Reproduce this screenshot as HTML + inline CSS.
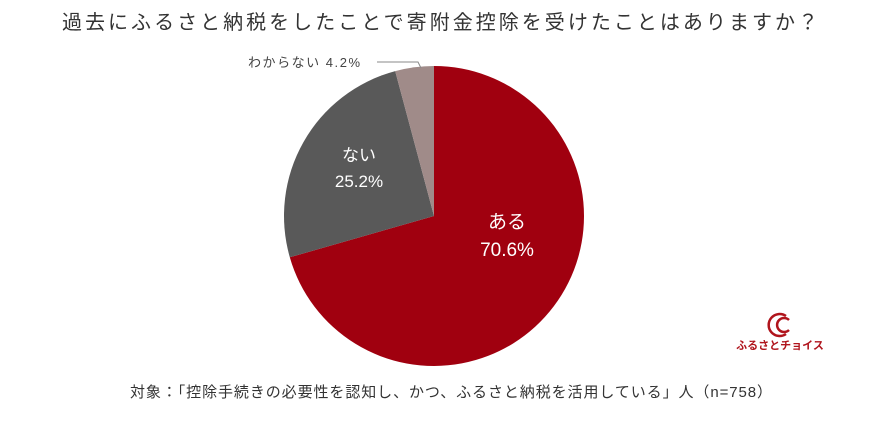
<!DOCTYPE html>
<html><head><meta charset="utf-8"><style>
body{margin:0;width:886px;height:434px;background:#fff;overflow:hidden;font-family:"Liberation Sans","Noto Sans CJK JP",sans-serif;}
</style></head><body>
<svg width="886" height="434" xmlns="http://www.w3.org/2000/svg" style="font-family:'Liberation Sans','Noto Sans CJK JP',sans-serif">
<text x="62" y="29" font-size="20" fill="#333" textLength="756" lengthAdjust="spacing">過去にふるさと納税をしたことで寄附金控除を受けたことはありますか？</text>
<g transform="translate(434,216)">
<path d="M0,0 L0,-150 A150,150 0 1 1 -144.2,41.3 Z" fill="#a0000f"/>
<path d="M0,0 L-144.2,41.3 A150,150 0 0 1 -38.8,-144.9 Z" fill="#595959"/>
<path d="M0,0 L-38.8,-144.9 A150,150 0 0 1 0,-150 Z" fill="#a08b89"/>
</g>
<polyline points="377,62 418,62 421,68" fill="none" stroke="#888" stroke-width="1"/>
<text x="248" y="67" font-size="13" fill="#444" textLength="112" lengthAdjust="spacing">わからない  4.2%</text>
<text x="359" y="161" text-anchor="middle" font-size="17" fill="#fff">ない</text>
<text x="359" y="187" text-anchor="middle" font-size="17" fill="#fff">25.2%</text>
<text x="507" y="228" text-anchor="middle" font-size="19" fill="#fff">ある</text>
<text x="507" y="256" text-anchor="middle" font-size="19" fill="#fff">70.6%</text>
<g fill="none" stroke="#b0141c" stroke-width="2.5">
<path d="M786,316 A11,11 0 1 0 786,334"/>
<path d="M789,320 A7,7 0 1 0 789,330"/>
</g>
<text x="780" y="349" text-anchor="middle" font-size="11" font-weight="bold" fill="#b0141c">ふるさとチョイス</text>
<text x="130" y="397" font-size="15" fill="#333" textLength="642" lengthAdjust="spacing">対象：「控除手続きの必要性を認知し、かつ、ふるさと納税を活用している」人（n=758）</text>
</svg>
</body></html>
